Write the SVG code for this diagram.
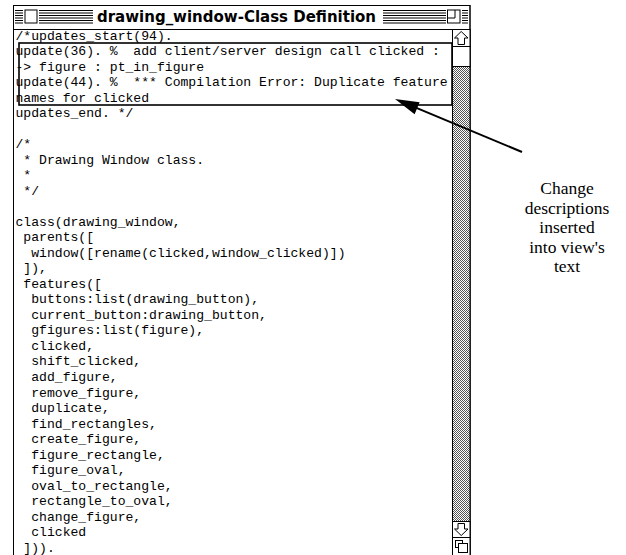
<svg xmlns="http://www.w3.org/2000/svg" width="626" height="555" viewBox="0 0 626 555">
<style>
.code{font-family:"Liberation Mono","DejaVu Sans Mono",monospace;font-size:13.1px;fill:#000;white-space:pre}
.note{font-family:"Liberation Serif","Times New Roman",serif;font-size:17.5px;fill:#000;text-anchor:middle}
.title{font-family:"DejaVu Sans","Liberation Sans",sans-serif;font-weight:bold;font-size:16px;fill:#000}
.ln{stroke:#000;stroke-width:1;fill:none}
.box{fill:#fff;stroke:#000;stroke-width:1}
</style>
<defs>
<pattern id="gray" width="2" height="2" patternUnits="userSpaceOnUse">
<rect width="2" height="2" fill="#fff"/>
<rect x="0" y="0" width="1" height="1" fill="#555"/>
<rect x="1" y="1" width="1" height="1" fill="#555"/>
</pattern>
<marker id="ah" markerUnits="userSpaceOnUse" viewBox="-8 -8 28 16" markerWidth="28" markerHeight="16" refX="0" refY="0" orient="auto">
<path d="M18,0 L-6,-6.5 L-6,6.5 Z" fill="#000"/>
</marker>
</defs>
<rect width="626" height="555" fill="#fff"/>

<g id="window">
<line class="ln" x1="13.5" y1="5" x2="13.5" y2="555"/>
<line class="ln" x1="13" y1="5.5" x2="470" y2="5.5"/>
<line x1="470" y1="5" x2="470" y2="555" stroke="#000" stroke-width="1.5"/>
<line class="ln" x1="13" y1="29.5" x2="470" y2="29.5"/>
</g>

<g id="titlebar">
<g stroke="#000" stroke-width="1.1">
<path d="M15,10.5H23M39,10.5H93M383,10.5H446M462,10.5H468"/>
<path d="M15,13H23M39,13H93M383,13H446M462,13H468"/>
<path d="M15,15.5H23M39,15.5H93M383,15.5H446M462,15.5H468"/>
<path d="M15,18H23M39,18H93M383,18H446M462,18H468"/>
<path d="M15,20.5H23M39,20.5H93M383,20.5H446M462,20.5H468"/>
<path d="M15,23H23M39,23H93M383,23H446M462,23H468"/>
</g>
<rect class="box" x="25" y="10" width="12" height="13"/>
<rect class="box" x="447.5" y="10" width="12.5" height="13"/>
<path class="ln" d="M455,10V18H447.5"/>
<text class="title" x="97" y="22" textLength="279" lengthAdjust="spacingAndGlyphs">drawing_window-Class Definition</text>
</g>

<g id="scrollbar">
<rect x="452.5" y="29.5" width="17.5" height="525.5" fill="url(#gray)" stroke="#000" stroke-width="1"/>
<rect class="box" x="452.5" y="29.5" width="17.5" height="17"/>
<polygon class="box" points="461.2,31.5 468,38 464.5,38 464.5,44.5 458,44.5 458,38 454.5,38"/>
<rect class="box" x="452.5" y="46.5" width="17.5" height="20"/>
<rect class="box" x="452.5" y="521.5" width="17.5" height="16"/>
<polygon class="box" points="461.2,535.5 468,529 464.5,529 464.5,523.5 458,523.5 458,529 454.5,529"/>
<rect class="box" x="452.5" y="537.5" width="17.5" height="18"/>
<rect class="box" x="455.5" y="540.5" width="7" height="7"/>
<rect class="box" x="458.5" y="543.5" width="9" height="9"/>
</g>

<g id="code" xml:space="preserve">
<text class="code" x="15.5" y="39.5">/*updates_start(94).</text>
<text class="code" x="15.5" y="55.0">update(36). %  add client/server design call clicked :</text>
<text class="code" x="15.5" y="70.5">-> figure : pt_in_figure</text>
<text class="code" x="15.5" y="86.1">update(44). %  *** Compilation Error: Duplicate feature</text>
<text class="code" x="15.5" y="101.6">names for clicked</text>
<text class="code" x="15.5" y="117.1">updates_end. */</text>
<text class="code" x="15.5" y="148.1">/*</text>
<text class="code" x="15.5" y="163.7"> * Drawing Window class.</text>
<text class="code" x="15.5" y="179.2"> *</text>
<text class="code" x="15.5" y="194.7"> */</text>
<text class="code" x="15.5" y="225.7">class(drawing_window,</text>
<text class="code" x="15.5" y="241.3"> parents([</text>
<text class="code" x="15.5" y="256.8">  window([rename(clicked,window_clicked)])</text>
<text class="code" x="15.5" y="272.3"> ]),</text>
<text class="code" x="15.5" y="287.8"> features([</text>
<text class="code" x="15.5" y="303.3">  buttons:list(drawing_button),</text>
<text class="code" x="15.5" y="318.9">  current_button:drawing_button,</text>
<text class="code" x="15.5" y="334.4">  gfigures:list(figure),</text>
<text class="code" x="15.5" y="349.9">  clicked,</text>
<text class="code" x="15.5" y="365.4">  shift_clicked,</text>
<text class="code" x="15.5" y="380.9">  add_figure,</text>
<text class="code" x="15.5" y="396.5">  remove_figure,</text>
<text class="code" x="15.5" y="412.0">  duplicate,</text>
<text class="code" x="15.5" y="427.5">  find_rectangles,</text>
<text class="code" x="15.5" y="443.0">  create_figure,</text>
<text class="code" x="15.5" y="458.5">  figure_rectangle,</text>
<text class="code" x="15.5" y="474.1">  figure_oval,</text>
<text class="code" x="15.5" y="489.6">  oval_to_rectangle,</text>
<text class="code" x="15.5" y="505.1">  rectangle_to_oval,</text>
<text class="code" x="15.5" y="520.6">  change_figure,</text>
<text class="code" x="15.5" y="536.1">  clicked</text>
<text class="code" x="15.5" y="551.7"> ])).</text>
</g>

<g id="highlight">
<rect x="19" y="43" width="433" height="62" fill="none" stroke="#000" stroke-width="1.6"/>
</g>

<g id="connectors">
<line x1="522" y1="152" x2="411.6" y2="105.9" stroke="#000" stroke-width="2" marker-end="url(#ah)"/>
</g>

<g id="annotation">
<text class="note" x="567" y="194"><tspan x="567" y="194">Change</tspan><tspan x="567" y="213.5">descriptions</tspan><tspan x="567" y="233">inserted</tspan><tspan x="567" y="252.5">into view's</tspan><tspan x="567" y="272">text</tspan></text>
</g>
</svg>
